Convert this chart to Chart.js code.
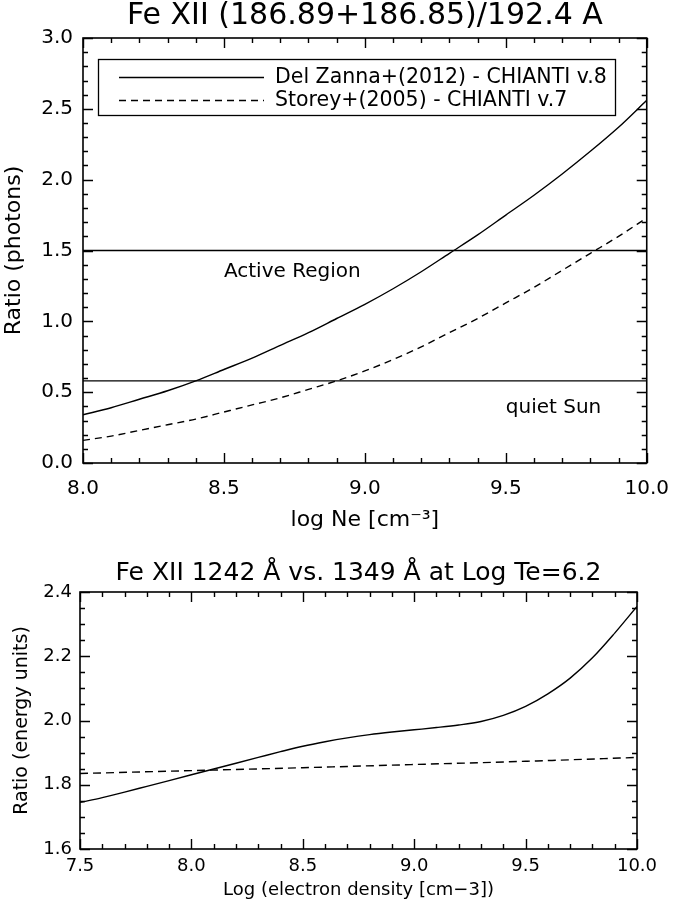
<!DOCTYPE html>
<html><head><meta charset="utf-8">
<script src="https://cdn.jsdelivr.net/npm/chart.js@4.4.1/dist/chart.umd.min.js"></script>
<style>
html,body{margin:0;padding:0;background:#fff;}
#wrap{position:relative;width:685px;height:906px;background:#fff;}
#c1{position:absolute;left:0;top:0;}
#c2{position:absolute;left:0;top:540px;}
</style></head><body>
<div id="wrap"><canvas id="c1" width="685" height="540"></canvas><canvas id="c2" width="685" height="366"></canvas></div>
<script>
// ================= DATA: top panel =================
const topTitle = 'Fe XII (186.89+186.85)/192.4 A';
const topXTitle = 'log Ne [cm\u207B\u00B3]';
const topYTitle = 'Ratio (photons)';
const topLogNe = [8.0,8.1,8.2,8.3,8.4,8.5,8.6,8.7,8.8,8.9,9.0,9.1,9.2,9.3,9.4,9.5,9.6,9.7,9.8,9.9,10.0];
const delZanna2012 = [0.34,0.39,0.45,0.51,0.58,0.66,0.74,0.83,0.92,1.02,1.12,1.23,1.35,1.48,1.61,1.75,1.89,2.04,2.20,2.37,2.56];
const storey2005   = [0.16,0.19,0.23,0.27,0.31,0.36,0.41,0.46,0.52,0.58,0.65,0.73,0.82,0.92,1.02,1.13,1.24,1.36,1.48,1.60,1.73];
const topSeriesLabels = ['Del Zanna+(2012) - CHIANTI v.8', 'Storey+(2005) - CHIANTI v.7'];
const levelLabels = ['Active Region', 'quiet Sun'];
const activeRegionLevel = 1.5;
const quietSunLevel = 0.58;
const topXTicks = [8.0, 8.5, 9.0, 9.5, 10.0];
const topXTickLabels = ['8.0', '8.5', '9.0', '9.5', '10.0'];
const topYTicks = [0.0, 0.5, 1.0, 1.5, 2.0, 2.5, 3.0];
const topYTickLabels = ['0.0', '0.5', '1.0', '1.5', '2.0', '2.5', '3.0'];

// ================= DATA: bottom panel =================
const bottomTitle = 'Fe XII 1242 \u00C5 vs. 1349 \u00C5 at Log Te=6.2';
const bottomXTitle = 'Log (electron density [cm\u22123])';
const bottomYTitle = 'Ratio (energy units)';
const bottomLogNe = [7.5,7.6,7.7,7.8,7.9,8.0,8.1,8.2,8.3,8.4,8.5,8.6,8.7,8.8,8.9,9.0,9.1,9.2,9.3,9.4,9.5,9.6,9.7,9.8,9.9,10.0];
const ratioSolid = [1.745,1.760,1.777,1.795,1.813,1.831,1.849,1.867,1.885,1.903,1.920,1.934,1.946,1.956,1.964,1.971,1.978,1.986,1.997,2.016,2.044,2.083,2.132,2.195,2.272,2.355];
const dashedLogNe = [7.5, 8.0, 8.5, 9.0, 9.5, 10.0];
const ratioDashed = [1.835, 1.844, 1.853, 1.863, 1.873, 1.885];
const bottomXTicks = [7.5, 8.0, 8.5, 9.0, 9.5, 10.0];
const bottomXTickLabels = ['7.5', '8.0', '8.5', '9.0', '9.5', '10.0'];
const bottomYTicks = [1.6, 1.8, 2.0, 2.2, 2.4];
const bottomYTickLabels = ['1.6', '1.8', '2.0', '2.2', '2.4'];

// ================= STYLE / PLUGINS =================
const FONT = '"DejaVu Sans", "Liberation Sans", sans-serif';
Chart.defaults.color = '#000';
Chart.defaults.font.family = FONT;

function pts(xs, ys){ return xs.map((x, i) => ({x: x, y: ys[i]})); }

// frame + inward IDL-style major/minor ticks on all four sides
const frameTicks = {
  id: 'frameTicks',
  afterDraw(chart, args, o) {
    const ctx = chart.ctx, ca = chart.chartArea;
    const xs = chart.scales.x, ys = chart.scales.y;
    ctx.save();
    ctx.strokeStyle = '#000';
    ctx.lineWidth = 1.4;
    ctx.beginPath();
    const tick = (vals, len, isX) => {
      vals.forEach(v => {
        if (isX) {
          const p = Math.round(xs.getPixelForValue(v)) + 0.5;
          ctx.moveTo(p, ca.bottom); ctx.lineTo(p, ca.bottom - len);
          ctx.moveTo(p, ca.top); ctx.lineTo(p, ca.top + len);
        } else {
          const p = Math.round(ys.getPixelForValue(v)) + 0.5;
          ctx.moveTo(ca.left, p); ctx.lineTo(ca.left + len, p);
          ctx.moveTo(ca.right, p); ctx.lineTo(ca.right - len, p);
        }
      });
    };
    const steps = (min, max, st) => { const a = []; const n = Math.round((max - min) / st); for (let i = 0; i <= n; i++) a.push(min + i * st); return a; };
    tick(steps(xs.min, xs.max, o.xMinor), o.minorLen, true);
    tick(steps(ys.min, ys.max, o.yMinor), o.minorLen, false);
    tick(o.xMajor, o.majorLen, true);
    tick(o.yMajor, o.majorLen, false);
    ctx.stroke();
    ctx.lineWidth = 1.6;
    ctx.strokeRect(ca.left, ca.top, ca.right - ca.left, ca.bottom - ca.top);
    ctx.restore();
  }
};

// boxed legend inside the plot (top panel)
const boxLegend = {
  id: 'boxLegend',
  afterDraw(chart, args, o) {
    if (!o.show) return;
    const ctx = chart.ctx, ca = chart.chartArea;
    ctx.save();
    ctx.strokeStyle = '#000';
    ctx.lineWidth = 1.3;
    const bx = ca.left + 15, by = ca.top + 21, bw = 517, bh = 56;
    ctx.strokeRect(bx + 0.5, by + 0.5, bw, bh);
    ctx.font = '20.5px ' + FONT;
    ctx.fillStyle = '#000';
    ctx.textBaseline = 'middle';
    ctx.textAlign = 'left';
    o.items.forEach((idx, k) => {
      const ds = chart.data.datasets[idx];
      const y = by + 18 + k * 22.5;
      ctx.setLineDash(ds.borderDash || []);
      ctx.lineWidth = 1.4;
      ctx.beginPath();
      ctx.moveTo(bx + 21, Math.round(y) + 0.5);
      ctx.lineTo(bx + 166, Math.round(y) + 0.5);
      ctx.stroke();
      ctx.setLineDash([]);
      ctx.fillText(ds.label, bx + 177, y + 1);
    });
    ctx.restore();
  }
};

// text labels anchored in data space
const textNotes = {
  id: 'textNotes',
  afterDraw(chart, args, o) {
    if (!o.notes) return;
    const ctx = chart.ctx;
    ctx.save();
    ctx.font = '20px ' + FONT;
    ctx.fillStyle = '#000';
    ctx.textAlign = 'left';
    ctx.textBaseline = 'middle';
    o.notes.forEach(n => {
      ctx.fillText(n.text, chart.scales.x.getPixelForValue(n.x), chart.scales.y.getPixelForValue(n.y));
    });
    ctx.restore();
  }
};

function lineDs(label, data, dash) {
  return {label: label, data: data, borderColor: '#000', borderWidth: 1.4, borderDash: dash || [],
          pointRadius: 0, pointHoverRadius: 0, fill: false, cubicInterpolationMode: 'monotone'};
}

// ================= TOP CHART =================
new Chart(document.getElementById('c1'), {
  type: 'line',
  data: { datasets: [
    lineDs(topSeriesLabels[0], pts(topLogNe, delZanna2012)),
    lineDs(topSeriesLabels[1], pts(topLogNe, storey2005), [7, 5]),
    lineDs(levelLabels[0], pts([topLogNe[0], topLogNe[topLogNe.length - 1]], [activeRegionLevel, activeRegionLevel])),
    lineDs(levelLabels[1], pts([topLogNe[0], topLogNe[topLogNe.length - 1]], [quietSunLevel, quietSunLevel]))
  ]},
  options: {
    responsive: false, animation: false, events: [],
    layout: { padding: { left: 0, right: 23, top: 0, bottom: 9 } },
    plugins: {
      legend: { display: false }, tooltip: { enabled: false },
      title: { display: true, text: topTitle, fullSize: false, color: '#000',
               font: { family: FONT, size: 30, weight: 'normal', lineHeight: 1 }, padding: { top: 1, bottom: 7 } },
      frameTicks: { xMajor: topXTicks, yMajor: topYTicks, xMinor: 0.1, yMinor: 0.1, majorLen: 10, minorLen: 5 },
      boxLegend: { show: true, items: [0, 1] },
      textNotes: { notes: [ { text: levelLabels[0], x: 8.5, y: 1.35 }, { text: levelLabels[1], x: 9.5, y: 0.39 } ] }
    },
    scales: {
      x: { type: 'linear', min: 8, max: 10,
           afterBuildTicks: s => { s.ticks = topXTicks.map(v => ({ value: v })); },
           afterFit: s => { s.height = 68; },
           ticks: { autoSkip: false, maxRotation: 0, padding: 16, color: '#000',
                    font: { family: FONT, size: 20, lineHeight: 1 }, callback: (v, i) => topXTickLabels[i] },
           grid: { display: false, drawTicks: false }, border: { display: false },
           title: { display: true, text: topXTitle, color: '#000', font: { family: FONT, size: 22, lineHeight: 1 }, padding: { top: 0, bottom: 0 } } },
      y: { type: 'linear', min: 0, max: 3,
           afterBuildTicks: s => { s.ticks = topYTicks.map(v => ({ value: v })); },
           afterFit: s => { s.width = 83; },
           ticks: { autoSkip: false, padding: 10, color: '#000',
                    font: { family: FONT, size: 20, lineHeight: 1 }, callback: (v, i) => topYTickLabels[i] },
           grid: { display: false, drawTicks: false }, border: { display: false },
           title: { display: true, text: topYTitle, color: '#000', font: { family: FONT, size: 22, lineHeight: 1 }, padding: { top: 3, bottom: 0 } } }
    }
  },
  plugins: [frameTicks, boxLegend, textNotes]
});

// ================= BOTTOM CHART =================
new Chart(document.getElementById('c2'), {
  type: 'line',
  data: { datasets: [
    lineDs('1242/1349 solid', pts(bottomLogNe, ratioSolid)),
    lineDs('1242/1349 dashed', pts(dashedLogNe, ratioDashed), [8, 5])
  ]},
  options: {
    responsive: false, animation: false, events: [],
    layout: { padding: { left: 0, right: 48, top: 0, bottom: 7 } },
    plugins: {
      legend: { display: false }, tooltip: { enabled: false },
      title: { display: true, text: bottomTitle, fullSize: false, color: '#000',
               font: { family: FONT, size: 25, weight: 'normal', lineHeight: 1 }, padding: { top: 21, bottom: 6 } },
      frameTicks: { xMajor: bottomXTicks, yMajor: bottomYTicks, xMinor: 0.1, yMinor: 0.05, majorLen: 10, minorLen: 5 },
      boxLegend: { show: false }
    },
    scales: {
      x: { type: 'linear', min: 7.5, max: 10,
           afterBuildTicks: s => { s.ticks = bottomXTicks.map(v => ({ value: v })); },
           afterFit: s => { s.height = 50; },
           ticks: { autoSkip: false, maxRotation: 0, padding: 8, color: '#000',
                    font: { family: FONT, size: 18, lineHeight: 1 }, callback: (v, i) => bottomXTickLabels[i] },
           grid: { display: false, drawTicks: false }, border: { display: false },
           title: { display: true, text: bottomXTitle, color: '#000', font: { family: FONT, size: 18, lineHeight: 1 }, padding: { top: 0, bottom: 0 } } },
      y: { type: 'linear', min: 1.6, max: 2.4,
           afterBuildTicks: s => { s.ticks = bottomYTicks.map(v => ({ value: v })); },
           afterFit: s => { s.width = 80; },
           ticks: { autoSkip: false, padding: 8, color: '#000',
                    font: { family: FONT, size: 18, lineHeight: 1 }, callback: (v, i) => bottomYTickLabels[i] },
           grid: { display: false, drawTicks: false }, border: { display: false },
           title: { display: true, text: bottomYTitle, color: '#000', font: { family: FONT, size: 19, lineHeight: 1 }, padding: { top: 13, bottom: 0 } } }
    }
  },
  plugins: [frameTicks, textNotes]
});
</script>
</body></html>
